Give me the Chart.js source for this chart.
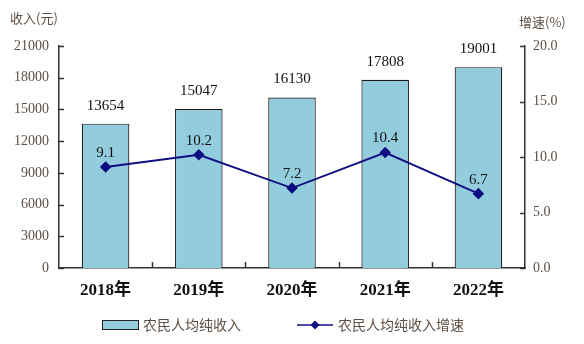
<!DOCTYPE html>
<html>
<head>
<meta charset="utf-8">
<script src="https://cdn.jsdelivr.net/npm/chart.js@4/dist/chart.umd.min.js"></script>
<style>
  html, body { margin: 0; padding: 0; background: #fff; }
  #wrap { width: 584px; height: 344px; position: relative; }
</style>
</head>
<body>
<div id="wrap"><canvas id="myChart" width="584" height="344"></canvas></div>
<script>
// 农民人均纯收入及增速
var years = ["2018年", "2019年", "2020年", "2021年", "2022年"];
var income = [13654, 15047, 16130, 17808, 19001];
var growth = [9.1, 10.2, 7.2, 10.4, 6.7];
var incomeTicks = [0, 3000, 6000, 9000, 12000, 15000, 18000, 21000];
var growthTicks = [0, 5, 10, 15, 20];

var serif = "'Liberation Serif', 'DejaVu Serif', serif";
var cjk = "'Noto Sans CJK SC', sans-serif";
var tickColor = "#5e4f44";
var lineColor = "#0e0e82";
var barColor = "#93cddd";

// 坐标轴刻度线画在绘图区内侧，数值标签和图例也在这里画
var extras = {
  id: "extras",
  afterDatasetsDraw: function (chart) {
    var ctx = chart.ctx;
    var x = chart.scales.x, y = chart.scales.y, y1 = chart.scales.y1;
    var area = chart.chartArea;
    ctx.save();
    ctx.strokeStyle = "#333";
    ctx.lineWidth = 1.5;
    ctx.beginPath();
    incomeTicks.forEach(function (v) {
      var py = Math.round(y.getPixelForValue(v)) + 0.5;
      ctx.moveTo(area.left, py);
      ctx.lineTo(area.left + 5, py);
    });
    growthTicks.forEach(function (v) {
      var py = Math.round(y1.getPixelForValue(v)) + 0.5;
      ctx.moveTo(area.right, py);
      ctx.lineTo(area.right - 5, py);
    });
    for (var i = 1; i < years.length; i++) {
      var px = Math.round((x.getPixelForValue(i - 1) + x.getPixelForValue(i)) / 2) + 0.5;
      ctx.moveTo(px, area.bottom);
      ctx.lineTo(px, area.bottom - 6);
    }
    ctx.stroke();

    // 柱子上方的收入数值
    ctx.fillStyle = "#111";
    ctx.textAlign = "center";
    ctx.textBaseline = "middle";
    ctx.font = "15px " + serif;
    income.forEach(function (v, i) {
      ctx.fillText(String(v), x.getPixelForValue(i), y.getPixelForValue(v) - 18);
    });
    // 折线点上方的增速数值
    growth.forEach(function (v, i) {
      ctx.fillText(v.toFixed(1), x.getPixelForValue(i), y1.getPixelForValue(v) - 14);
    });

    // 轴标题
    ctx.fillStyle = tickColor;
    ctx.font = "13px " + cjk;
    ctx.textAlign = "left";
    ctx.fillText("收入(元)", 10, 18);
    ctx.fillText("增速(%)", 519, 22);

    // 图例
    var ly = 325;
    ctx.fillStyle = barColor;
    ctx.fillRect(102, ly - 4, 36, 9);
    ctx.strokeStyle = "#222";
    ctx.lineWidth = 1;
    ctx.strokeRect(102.5, ly - 4.5, 36, 9);
    ctx.fillStyle = tickColor;
    ctx.font = "14px " + cjk;
    ctx.fillText("农民人均纯收入", 143, ly);

    ctx.strokeStyle = lineColor;
    ctx.lineWidth = 1.5;
    ctx.beginPath();
    ctx.moveTo(297, ly);
    ctx.lineTo(333, ly);
    ctx.stroke();
    ctx.fillStyle = lineColor;
    ctx.beginPath();
    ctx.moveTo(315, ly - 4.5);
    ctx.lineTo(319.5, ly);
    ctx.lineTo(315, ly + 4.5);
    ctx.lineTo(310.5, ly);
    ctx.closePath();
    ctx.fill();
    ctx.fillStyle = tickColor;
    ctx.fillText("农民人均纯收入增速", 338, ly);
    ctx.restore();
  }
};

var ctx = document.getElementById("myChart").getContext("2d");
var myChart = new Chart(ctx, {
  type: "bar",
  data: {
    labels: years,
    datasets: [
      {
        type: "line",
        label: "农民人均纯收入增速",
        data: growth,
        yAxisID: "y1",
        borderColor: lineColor,
        backgroundColor: lineColor,
        borderWidth: 1.8,
        pointStyle: "rectRot",
        pointRadius: 4.5,
        pointHoverRadius: 4.5,
        tension: 0,
        order: 0,
      },
      {
        label: "农民人均纯收入",
        data: income,
        yAxisID: "y",
        backgroundColor: barColor,
        borderColor: "#1c1c1c",
        borderWidth: 1.2,
        barPercentage: 0.51,
        categoryPercentage: 1,
        order: 1,
      },
    ],
  },
  options: {
    responsive: false,
    animation: false,
    layout: { padding: { left: 0, right: 0, top: 46, bottom: 36 } },
    plugins: {
      legend: { display: false },
      tooltip: { enabled: false },
    },
    scales: {
      x: {
        offset: true,
        grid: { display: false, drawTicks: false },
        border: { display: true, color: "#333", width: 1.5 },
        ticks: {
          color: "#111",
          padding: 12,
          font: { family: serif + ", " + cjk, size: 17, weight: "bold" },
        },
        afterFit: function (s) { s.height = 40; },
      },
      y: {
        position: "left",
        min: 0,
        max: 21000,
        afterBuildTicks: function (s) {
          s.ticks = incomeTicks.map(function (v) { return { value: v }; });
        },
        grid: { display: false, drawTicks: false },
        border: { display: true, color: "#333", width: 1.5 },
        ticks: {
          color: tickColor,
          padding: 10,
          font: { family: serif, size: 14 },
          callback: function (v) { return String(v); },
        },
        afterFit: function (s) { s.width = 59; },
      },
      y1: {
        position: "right",
        min: 0,
        max: 20,
        afterBuildTicks: function (s) {
          s.ticks = growthTicks.map(function (v) { return { value: v }; });
        },
        grid: { display: false, drawTicks: false },
        border: { display: true, color: "#333", width: 1.5 },
        ticks: {
          color: tickColor,
          padding: 8,
          font: { family: serif, size: 14 },
          callback: function (v) { return Number(v).toFixed(1); },
        },
        afterFit: function (s) { s.width = 59; },
      },
    },
  },
  plugins: [extras],
});
</script>
</body>
</html>
